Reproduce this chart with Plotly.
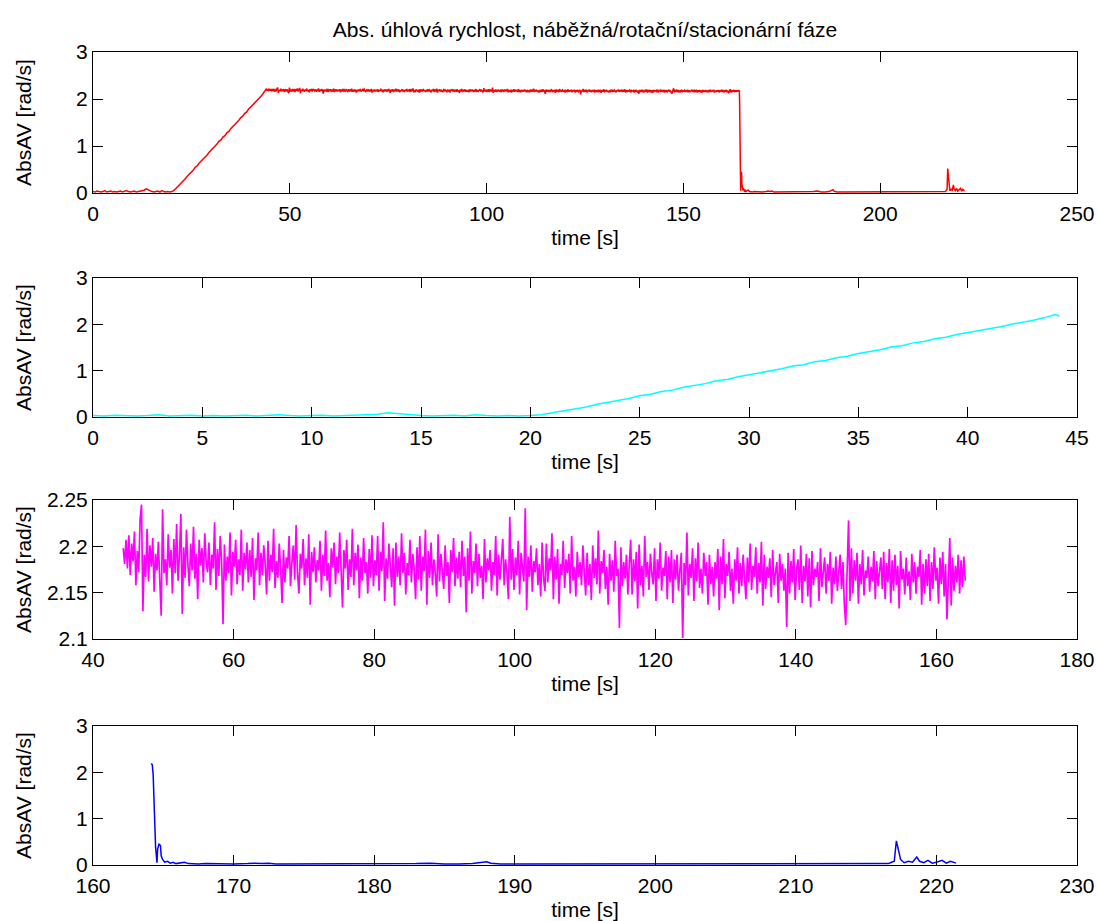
import numpy as np
import plotly.graph_objects as go

# ---------------- data ----------------
# Phase 1: start-up (náběžná) phase, explicit samples
ramp_t = [0.0, 0.5, 1.0, 1.5, 2.0, 2.5, 3.0, 3.5, 4.0, 4.5, 5.0, 5.5, 6.0, 6.5, 7.0, 7.5, 8.0, 8.5, 9.0, 9.5,
          10.0, 10.5, 11.0, 11.5, 12.0, 12.5, 13.0, 13.5, 14.0, 14.5, 15.0, 15.5, 16.0, 16.5, 17.0, 17.5, 18.0,
          18.5, 19.0, 19.5, 20.0,
          20.5, 21.0, 21.5, 22.0, 22.5, 23.0, 23.5, 24.0, 24.5, 25.0, 25.5, 26.0, 26.5, 27.0, 27.5, 28.0, 28.5,
          29.0, 29.5, 30.0, 30.5, 31.0, 31.5, 32.0, 32.5, 33.0, 33.5, 34.0, 34.5, 35.0, 35.5, 36.0, 36.5, 37.0,
          37.5, 38.0, 38.5, 39.0, 39.5, 40.0, 40.5, 41.0, 41.5, 42.0, 42.5, 43.0, 43.5, 44.0, 44.2]
ramp_v = [0.03, 0.02, 0.04, 0.03, 0.02, 0.03, 0.05, 0.02, 0.03, 0.04, 0.02, 0.03, 0.02, 0.03, 0.04, 0.02, 0.03,
          0.05, 0.03, 0.02, 0.03, 0.04, 0.02, 0.03, 0.03, 0.05, 0.06, 0.09, 0.07, 0.04, 0.03, 0.02, 0.03, 0.04,
          0.02, 0.05, 0.03, 0.02, 0.03, 0.02, 0.03,
          0.05, 0.09, 0.13, 0.18, 0.21, 0.27, 0.31, 0.36, 0.40, 0.46, 0.49, 0.55, 0.58, 0.64, 0.68, 0.72, 0.78,
          0.81, 0.87, 0.91, 0.95, 1.00, 1.04, 1.10, 1.13, 1.19, 1.22, 1.28, 1.31, 1.37, 1.41, 1.45, 1.51, 1.54,
          1.60, 1.63, 1.69, 1.72, 1.78, 1.82, 1.86, 1.91, 1.95, 2.00, 2.04, 2.09, 2.14, 2.21, 2.18]

# Phase 2: rotation (rotační) phase, sampled every 0.2 s from 44.3 s
rot_t0 = 44.3
rot_dt = 0.2
rot_v = [
    2.198, 2.181, 2.207, 2.176, 2.212, 2.169, 2.203, 2.184, 2.216, 2.158, 2.195, 2.172, 2.229, 2.245, 2.130,
    2.191, 2.167, 2.219, 2.162, 2.201, 2.178, 2.209, 2.151, 2.192, 2.174, 2.205, 2.163, 2.125, 2.240, 2.171,
    2.186, 2.158, 2.213, 2.177, 2.196, 2.149, 2.208, 2.171, 2.224, 2.163, 2.189, 2.235, 2.127, 2.199, 2.166,
    2.218, 2.181, 2.157, 2.203, 2.174, 2.221, 2.165, 2.192, 2.143, 2.207, 2.179, 2.198, 2.161, 2.214, 2.183,
    2.172, 2.204, 2.158, 2.191, 2.176, 2.226, 2.153, 2.197, 2.168, 2.211, 2.184, 2.116, 2.202, 2.163, 2.189,
    2.171, 2.215, 2.147, 2.194, 2.178, 2.207, 2.159, 2.186, 2.169, 2.218, 2.152, 2.193, 2.175, 2.204, 2.161,
    2.196, 2.167, 2.209, 2.142, 2.187, 2.174, 2.215, 2.158, 2.193, 2.169, 2.201, 2.181, 2.148, 2.206, 2.163,
    2.191, 2.172, 2.219, 2.155, 2.184, 2.166, 2.203, 2.175, 2.139, 2.196, 2.161, 2.188, 2.176, 2.211, 2.157,
    2.183, 2.201, 2.164, 2.223, 2.171, 2.149, 2.192, 2.176, 2.208, 2.158, 2.187, 2.166, 2.213, 2.137, 2.194,
    2.172, 2.199, 2.161, 2.185, 2.174, 2.206, 2.152, 2.191, 2.168, 2.217, 2.163, 2.182, 2.145, 2.198, 2.177,
    2.204, 2.159, 2.189, 2.171, 2.215, 2.162, 2.134, 2.196, 2.176, 2.207, 2.153, 2.186, 2.167, 2.219, 2.158,
    2.193, 2.174, 2.202, 2.144, 2.188, 2.163, 2.209, 2.171, 2.183, 2.149, 2.197, 2.166, 2.212, 2.157, 2.185,
    2.169, 2.211, 2.152, 2.194, 2.173, 2.226, 2.141, 2.187, 2.165, 2.203, 2.178, 2.156, 2.198, 2.136, 2.204,
    2.167, 2.189, 2.158, 2.214, 2.171, 2.193, 2.148, 2.182, 2.169, 2.207, 2.161, 2.192, 2.175, 2.143, 2.199,
    2.164, 2.211, 2.152, 2.189, 2.173, 2.218, 2.137, 2.195, 2.166, 2.204, 2.158, 2.186, 2.171, 2.146, 2.213,
    2.162, 2.192, 2.177, 2.154, 2.201, 2.168, 2.183, 2.139, 2.196, 2.172, 2.209, 2.157, 2.188, 2.165, 2.194,
    2.156, 2.206, 2.168, 2.189, 2.129, 2.198, 2.163, 2.216, 2.149, 2.184, 2.171, 2.203, 2.157, 2.192, 2.166,
    2.179, 2.143, 2.208, 2.161, 2.187, 2.174, 2.196, 2.152, 2.183, 2.169, 2.211, 2.147, 2.191, 2.164, 2.185,
    2.208, 2.158, 2.186, 2.171, 2.143, 2.232, 2.164, 2.197, 2.153, 2.188, 2.169, 2.206, 2.148, 2.193, 2.176,
    2.162, 2.241, 2.131, 2.189, 2.167, 2.201, 2.151, 2.184, 2.172, 2.198, 2.158, 2.181, 2.146, 2.204, 2.166,
    2.152, 2.203, 2.161, 2.187, 2.174, 2.214, 2.143, 2.189, 2.164, 2.197, 2.138, 2.181, 2.169, 2.206, 2.155,
    2.186, 2.171, 2.192, 2.149, 2.211, 2.163, 2.178, 2.146, 2.194, 2.167, 2.183, 2.158, 2.201, 2.172, 2.147,
    2.193, 2.158, 2.181, 2.142, 2.201, 2.166, 2.187, 2.159, 2.217, 2.149, 2.184, 2.171, 2.196, 2.154, 2.178,
    2.137, 2.192, 2.163, 2.185, 2.151, 2.206, 2.168, 2.176, 2.112, 2.199, 2.157, 2.183, 2.165, 2.191, 2.148,
    2.181, 2.207, 2.148, 2.186, 2.162, 2.194, 2.133, 2.202, 2.158, 2.179, 2.146, 2.211, 2.167, 2.183, 2.153,
    2.192, 2.171, 2.159, 2.198, 2.141, 2.186, 2.165, 2.204, 2.152, 2.177, 2.168, 2.195, 2.143, 2.189, 2.161,
    2.196, 2.139, 2.186, 2.164, 2.191, 2.152, 2.174, 2.193, 2.101, 2.182, 2.158, 2.215, 2.147, 2.181, 2.166,
    2.198, 2.141, 2.187, 2.162, 2.204, 2.155, 2.176, 2.149, 2.193, 2.168, 2.183, 2.137, 2.191, 2.159, 2.178,
    2.146, 2.183, 2.165, 2.197, 2.131, 2.189, 2.159, 2.208, 2.144, 2.181, 2.168, 2.194, 2.152, 2.176, 2.138,
    2.186, 2.163, 2.199, 2.149, 2.182, 2.157, 2.191, 2.166, 2.143, 2.188, 2.161, 2.203, 2.153, 2.179, 2.167,
    2.199, 2.149, 2.182, 2.161, 2.205, 2.136, 2.191, 2.154, 2.178, 2.166, 2.187, 2.145, 2.196, 2.158, 2.172,
    2.183, 2.139, 2.192, 2.163, 2.181, 2.152, 2.176, 2.113, 2.193, 2.149, 2.184, 2.161, 2.197, 2.142, 2.175,
    2.186, 2.153, 2.201, 2.139, 2.179, 2.162, 2.192, 2.146, 2.187, 2.134, 2.195, 2.158, 2.176, 2.167, 2.183,
    2.141, 2.198, 2.156, 2.172, 2.188, 2.149, 2.181, 2.163, 2.194, 2.138, 2.177, 2.159, 2.189, 2.152, 2.171,
    2.191, 2.154, 2.183, 2.137, 2.115, 2.176, 2.228, 2.141, 2.198, 2.149, 2.185, 2.163, 2.193, 2.138, 2.181,
    2.159, 2.196, 2.147, 2.174, 2.166, 2.189, 2.151, 2.178, 2.162, 2.195, 2.143, 2.184, 2.157, 2.171, 2.188,
    2.154, 2.194, 2.143, 2.182, 2.161, 2.197, 2.139, 2.185, 2.152, 2.191, 2.158, 2.179, 2.133, 2.195, 2.164,
    2.176, 2.148, 2.188, 2.157, 2.173, 2.142, 2.192, 2.161, 2.183, 2.149, 2.178, 2.167, 2.196, 2.137, 2.181,
    2.149, 2.186, 2.157, 2.192, 2.141, 2.183, 2.154, 2.199, 2.163, 2.177, 2.138, 2.188, 2.159, 2.194, 2.146,
    2.181, 2.121, 2.172, 2.209, 2.136, 2.188, 2.152, 2.179, 2.161, 2.191, 2.149, 2.185, 2.156, 2.189, 2.163,
]
rot_t = list(rot_t0 + rot_dt * np.arange(len(rot_v)))

# Phase 3: stationary (stacionární) phase, explicit samples
stat_t = [164.15, 164.22, 164.28, 164.33, 164.4, 164.45, 164.55, 164.6, 164.7, 164.8, 164.85, 164.95, 165.1,
          165.3, 165.5, 165.7, 165.9, 166.2, 166.5, 166.8, 167.5, 168.0, 169.0, 170.0, 171.0, 171.5, 172.0,
          172.5, 173.0, 174.0, 175.0, 176.0, 177.0, 178.0, 179.0, 180.0, 181.0, 182.0, 183.0, 184.0, 185.0,
          186.0, 187.0, 188.0, 188.3, 189.0, 190.0, 191.0, 192.0, 193.0, 194.0, 195.0, 196.0, 198.0, 200.0,
          202.0, 204.0, 206.0, 208.0, 210.0, 212.0, 214.0, 216.0, 216.6, 216.8, 217.0, 217.15, 217.3, 217.45,
          217.7, 218.0, 218.3, 218.6, 218.8, 219.1, 219.4, 219.7, 220.0, 220.4, 220.7, 221.0, 221.4]
stat_v = [2.19, 2.16, 1.95, 1.5, 1.0, 0.4, 0.05, 0.35, 0.45, 0.42, 0.2, 0.12, 0.06,
          0.08, 0.04, 0.06, 0.03, 0.05, 0.06, 0.03, 0.02, 0.03, 0.02, 0.02, 0.03, 0.04, 0.03,
          0.04, 0.02, 0.02, 0.02, 0.03, 0.02, 0.02, 0.02, 0.03, 0.02, 0.02, 0.03, 0.04, 0.02,
          0.02, 0.03, 0.07, 0.04, 0.02, 0.02, 0.02, 0.03, 0.02, 0.02, 0.02, 0.02, 0.02, 0.02,
          0.02, 0.02, 0.02, 0.02, 0.02, 0.02, 0.02, 0.02, 0.03, 0.06, 0.08, 0.52, 0.35, 0.12,
          0.05, 0.08, 0.06, 0.17, 0.08, 0.05, 0.10, 0.04, 0.06, 0.10, 0.04, 0.08, 0.04]

full_t = list(ramp_t) + rot_t + list(stat_t)
full_v = list(ramp_v) + list(rot_v) + list(stat_v)

title_text = "Abs. úhlová rychlost, náběžná/rotační/stacionární fáze"
x_label = "time [s]"
y_label = "AbsAV [rad/s]"

# ---------------- figure ----------------
FONT = "Liberation Sans, Arial, sans-serif"
FS = 21

fig = go.Figure()
series = [
    (full_t, full_v, "#FF0000", "x", "y", 1.5),
    (ramp_t, ramp_v, "#00FFFF", "x2", "y2", 1.5),
    (rot_t, rot_v, "#FF00FF", "x3", "y3", 1.7),
    (stat_t, stat_v, "#0000FF", "x4", "y4", 1.5),
]
for t, v, c, xa, ya, w in series:
    fig.add_trace(go.Scatter(x=t, y=v, mode="lines", line=dict(color=c, width=w),
                             xaxis=xa, yaxis=ya, showlegend=False, hoverinfo="x+y"))

H = 921
top, bot = 52, 56
ph = H - top - bot
def dom(y0, y1):
    return [(H - bot - y1) / ph, (H - bot - y0) / ph]

doms = [dom(52, 193), dom(278, 417), dom(500, 639), dom(726, 865)]
xr = [[0, 250], [0, 45], [40, 180], [160, 230]]
xd = [50, 5, 20, 10]
yr = [[0, 3], [0, 3], [2.1, 2.25], [0, 3]]
ystand = [38, 38, 9, 38]

common = dict(showline=True, linecolor="black", linewidth=1, mirror="ticks", ticks="inside",
              ticklen=10, tickwidth=1, tickcolor="black", showgrid=False, zeroline=False,
              tickfont=dict(family=FONT, size=FS, color="black"))
layout = {}
for i in range(4):
    sx = "" if i == 0 else str(i + 1)
    xk = "xaxis" + sx
    yk = "yaxis" + sx
    layout[xk] = dict(common, domain=[0, 1], range=xr[i], dtick=xd[i], tick0=0,
                      anchor="y" + sx, ticklabelstandoff=2,
                      title=dict(text=x_label, font=dict(family=FONT, size=FS, color="black"), standoff=6))
    ydict = dict(common, domain=doms[i], range=yr[i], anchor="x" + sx,
                 title=dict(text=y_label, font=dict(family=FONT, size=FS, color="black"), standoff=ystand[i]))
    if i == 2:
        ydict.update(tickvals=[2.1, 2.15, 2.2, 2.25], ticktext=["2.1", "2.15", "2.2", "2.25"])
    else:
        ydict.update(dtick=1, tick0=0)
    layout[yk] = ydict

fig.update_layout(**layout)
fig.update_layout(
    width=1097, height=921,
    margin=dict(l=93, r=20, t=52, b=56, autoexpand=False),
    paper_bgcolor="white", plot_bgcolor="white",
    showlegend=False,
    title=dict(text=title_text, x=0.5, xref="paper", xanchor="center",
               y=1 - 30 / 921, yref="container", yanchor="middle",
               font=dict(family=FONT, size=FS, color="black")),
)

fig.write_html("out.html")
